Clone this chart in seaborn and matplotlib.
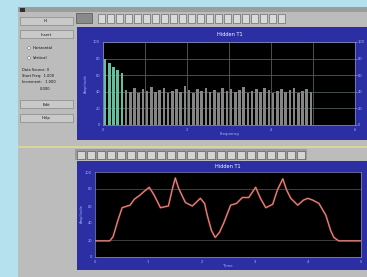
import numpy as np
import pandas as pd
import seaborn as sns
import matplotlib.pyplot as plt
from matplotlib.patches import Rectangle, Circle

# top panel: spectrum bars (first few are the highlighted peak bins)
bar_heights = [80, 75, 70, 66, 63,
               42, 40, 44, 39, 43, 41, 46, 40, 42, 44,
               39, 41, 43, 40, 47, 42, 38, 43, 41, 45,
               40, 42, 39, 44, 41, 43, 40, 42, 46, 39,
               41, 43, 40, 44, 42, 38, 41, 43, 40, 42,
               44, 39, 41, 43, 40]
bar_kinds = ["peak"] * 5 + ["base"] * 45

# bottom panel: time trace
line_x = [0.00, 0.28, 0.34, 0.43, 0.51, 0.66, 0.74, 0.85, 0.92, 1.02,
          1.11, 1.23, 1.38, 1.45, 1.51, 1.57, 1.70, 1.83, 1.98, 2.06,
          2.11, 2.19, 2.26, 2.34, 2.42, 2.55, 2.66, 2.77, 2.89, 3.02,
          3.11, 3.21, 3.34, 3.43, 3.53, 3.60, 3.68, 3.81, 3.92, 4.00,
          4.09, 4.21, 4.34, 4.43, 4.49, 4.58, 5.00]
line_y = [19, 19, 24, 43, 58, 61, 68, 73, 77, 82,
          73, 58, 60, 79, 93, 81, 64, 60, 69, 63,
          49, 31, 23, 29, 40, 61, 63, 70, 70, 82,
          69, 58, 62, 79, 92, 79, 69, 61, 67, 69,
          67, 63, 49, 31, 23, 19, 19]

W, H = 367, 277
BLUE = "#2b2fa3"
GREY = "#bcbcbc"
TICK = "#a9b6ff"

sns.set_style("white")
plt.rcParams['font.family'] = ['DejaVu Sans']

fig = plt.figure(figsize=(W / 100, H / 100), dpi=100, facecolor="#b5e1ee")


def box(x, y, w, h, **kw):
    # window furniture sits below the axes
    kw.setdefault("zorder", -5)
    fig.add_artist(Rectangle((x / W, 1 - (y + h) / H), w / W, h / H,
                             transform=fig.transFigure, **kw))


def label(x, y, s, **kw):
    fig.text(x / W, 1 - y / H, s, **kw)


def axes_at(x, y, w, h):
    return fig.add_axes([x / W, 1 - (y + h) / H, w / W, h / H])


# window
box(18, 7, 349, 270, fc=GREY, ec="none")
box(18, 7, 349, 5, fc="#9c9c9c", ec="none")
box(20, 8, 5, 4, fc="#303030", ec="none")

# left control panel
for by, txt in [(17, "Hi"), (30, "Insert"), (100, "Edit"), (114, "Help")]:
    box(20, by, 53, 8, fc="#c9c9c9", ec="#7a7a7a", lw=0.4)
    label(46, by + 4.5, txt, fontsize=2.8, ha="center", va="center", color="#101010")
for ry, txt in [(48, "Horizontal"), (58, "Vertical")]:
    fig.add_artist(Circle((29 / W, 1 - ry / H), 1.6 / W, transform=fig.transFigure,
                          fc="white", ec="#505050", lw=0.3, zorder=-4))
    label(33, ry, txt, fontsize=2.8, va="center", color="#101010")
for ty, txt in [(70, "Data Source: X"), (76, "Start Freq:  1.000"),
                (82, "Increment:   1.000"), (89, "0.000")]:
    label(22 if ty < 88 else 40, ty, txt, fontsize=2.6, va="center", color="#101010")

# toolbars
for tx in range(98, 282, 9):
    box(tx, 14, 7, 9, fc="#dadada" if tx % 27 else "#f2f2f2", ec="#555555", lw=0.4)
box(76, 13, 16, 10, fc="#8a8a8a", ec="#404040", lw=0.4)
box(18, 146, 349, 1.5, fc="#d9d49a", ec="none")
box(75, 149, 232, 11, fc="#9a9a9a", ec="none")
for tx in range(77, 302, 10):
    box(tx, 150.5, 8, 8, fc="#d4d4d4" if tx % 30 else "#f0f0f0", ec="#4a4a4a", lw=0.4)

# blue panels
box(77, 27, 290, 113, fc=BLUE, ec="none")
box(77, 161, 290, 109, fc=BLUE, ec="none")
label(230, 35, "Hidden T1", fontsize=3.6, ha="center", va="center", color="white")
label(228, 166, "Hidden T1", fontsize=3.6, ha="center", va="center", color="white")
label(230, 134, "Frequency", fontsize=2.8, ha="center", va="center", color=TICK)
label(228, 266, "Time", fontsize=2.8, ha="center", va="center", color=TICK)
label(86, 84, "Amplitude", fontsize=2.6, ha="center", va="center", rotation=90, color=TICK)
label(82, 214, "Amplitude", fontsize=2.6, ha="center", va="center", rotation=90, color=TICK)

# top spectrum
ax1 = axes_at(103, 42, 252, 83)
ax1.set_facecolor("black")
bars = pd.DataFrame({"bin": range(len(bar_heights)), "height": bar_heights, "kind": bar_kinds})
sns.barplot(data=bars, x="bin", y="height", hue="kind", dodge=False, width=0.6,
            palette={"peak": "#66bf9c", "base": "#858585"}, saturation=1,
            linewidth=0, legend=False, ax=ax1, zorder=2)
ax1.set_xlim(-0.5, 59.5)
ax1.set_ylim(0, 100)
ax1.set_xticks([-0.5, 9.5, 19.5, 29.5, 39.5, 49.5, 59.5],
               ["0", "", "2", "", "4", "", "6"])
ax1.set_yticks([0, 20, 40, 60, 80, 100], ["0", "20", "40", "60", "80", "100"])
ax1.grid(True, color="#4f5f54", lw=0.6, zorder=1)
ax1.set_axisbelow(True)
ax1.tick_params(labelsize=2.6, colors=TICK, length=1.2, width=0.4, pad=1,
                labelright=True, right=True)
ax1.set_xlabel("")
ax1.set_ylabel("")

# bottom trace
ax2 = axes_at(95, 172, 266, 85)
ax2.set_facecolor("black")
sns.lineplot(x=line_x, y=line_y, color="#b9483f", lw=1.3, ax=ax2)
sns.lineplot(x=line_x, y=line_y, color="#e2a49b", lw=0.45, ax=ax2)
ax2.set_xlim(0, 5)
ax2.set_ylim(0, 100)
ax2.set_xticks([0, 1, 2, 3, 4, 5], ["0", "1", "2", "3", "4", "5"])
ax2.set_yticks([0, 20, 40, 60, 80, 100], ["0", "20", "40", "60", "80", "100"])
ax2.axhline(20, color="#4a4a4a", lw=0.6, zorder=0)
ax2.axhline(80, color="#4a4a4a", lw=0.6, zorder=0)
ax2.tick_params(labelsize=2.6, colors=TICK, length=1.2, width=0.4, pad=1)

for ax in (ax1, ax2):
    for sp in ax.spines.values():
        sp.set_color("#8a8fd0")
        sp.set_linewidth(0.5)

fig.savefig("out.png", dpi=100, facecolor=fig.get_facecolor())
